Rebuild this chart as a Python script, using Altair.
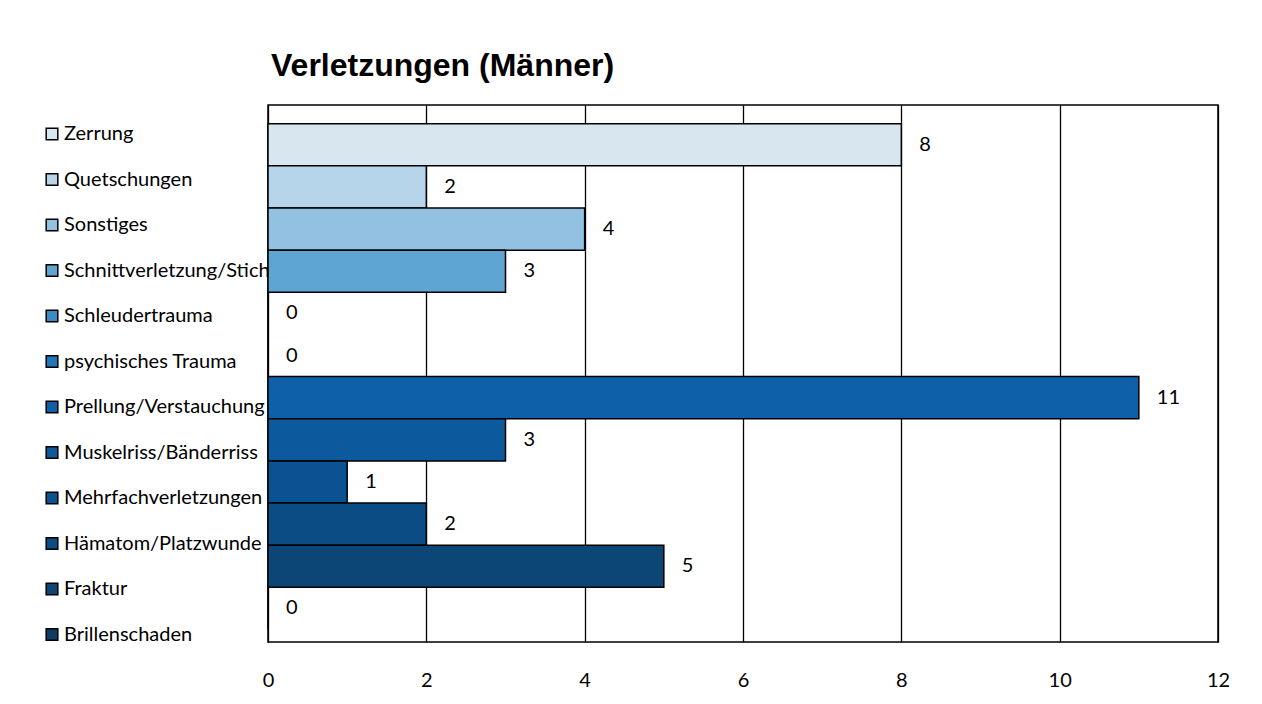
import altair as alt
import pandas as pd

categories = ["Zerrung", "Quetschungen", "Sonstiges", "Schnittverletzung/Stich",
              "Schleudertrauma", "psychisches Trauma", "Prellung/Verstauchung",
              "Muskelriss/Bänderriss", "Mehrfachverletzungen", "Hämatom/Platzwunde",
              "Fraktur", "Brillenschaden"]
values = [8, 2, 4, 3, 0, 0, 11, 3, 1, 2, 5, 0]
colors = ["#d8e6ef", "#b6d4ea", "#92c1e1", "#5fa5d3", "#3b8cc4", "#2076b6",
          "#0e61a8", "#0c5a9d", "#0b5292", "#0b4c84", "#0b4676", "#0d3d64"]
x_ticks = [0, 2, 4, 6, 8, 10, 12]

df = pd.DataFrame({"Kategorie": categories, "Anzahl": values})

FONT = "Lato"

y_enc = alt.Y("Kategorie:N", sort=categories, axis=None,
              scale=alt.Scale(paddingInner=0, paddingOuter=0.37, align=0.6))

bars = alt.Chart(df).mark_bar(stroke="black", strokeWidth=1.5).encode(
    x=alt.X("Anzahl:Q",
            scale=alt.Scale(domain=[0, 12], nice=False),
            axis=alt.Axis(values=x_ticks, format="d", title=None, ticks=False, domain=False,
                          grid=True, gridColor="black", gridWidth=1.3, gridOpacity=1,
                          labelFont=FONT, labelFontSize=20, labelColor="black",
                          labelPadding=28, labelFlush=False)),
    y=y_enc,
    color=alt.Color("Kategorie:N", sort=categories,
                    scale=alt.Scale(domain=categories, range=colors),
                    legend=alt.Legend(title=None, orient="none", legendX=-226, legendY=19,
                                      symbolType="square", symbolSize=135,
                                      symbolStrokeColor="black", symbolStrokeWidth=1.5,
                                      labelFont=FONT, labelFontSize=20, labelColor="black",
                                      labelOffset=2, rowPadding=25.5, labelLimit=300)),
)

labels = alt.Chart(df).mark_text(align="left", baseline="middle", dx=18,
                                 font=FONT, fontSize=20, color="black").encode(
    x=alt.X("Anzahl:Q"),
    y=y_enc,
    text=alt.Text("Anzahl:Q"),
)

chart = alt.layer(bars, labels).properties(
    width=950, height=537,
    padding={"left": 34, "top": 42, "right": 20, "bottom": 10},
    title=alt.TitleParams("Verletzungen (Männer)", anchor="start", frame="group",
                          font="Liberation Sans", fontSize=32, fontWeight="bold",
                          color="black", offset=22, dx=3),
).configure_view(stroke="black", strokeWidth=1.5)

chart.save("out.html", embed_options={"renderer": "svg", "actions": False})
